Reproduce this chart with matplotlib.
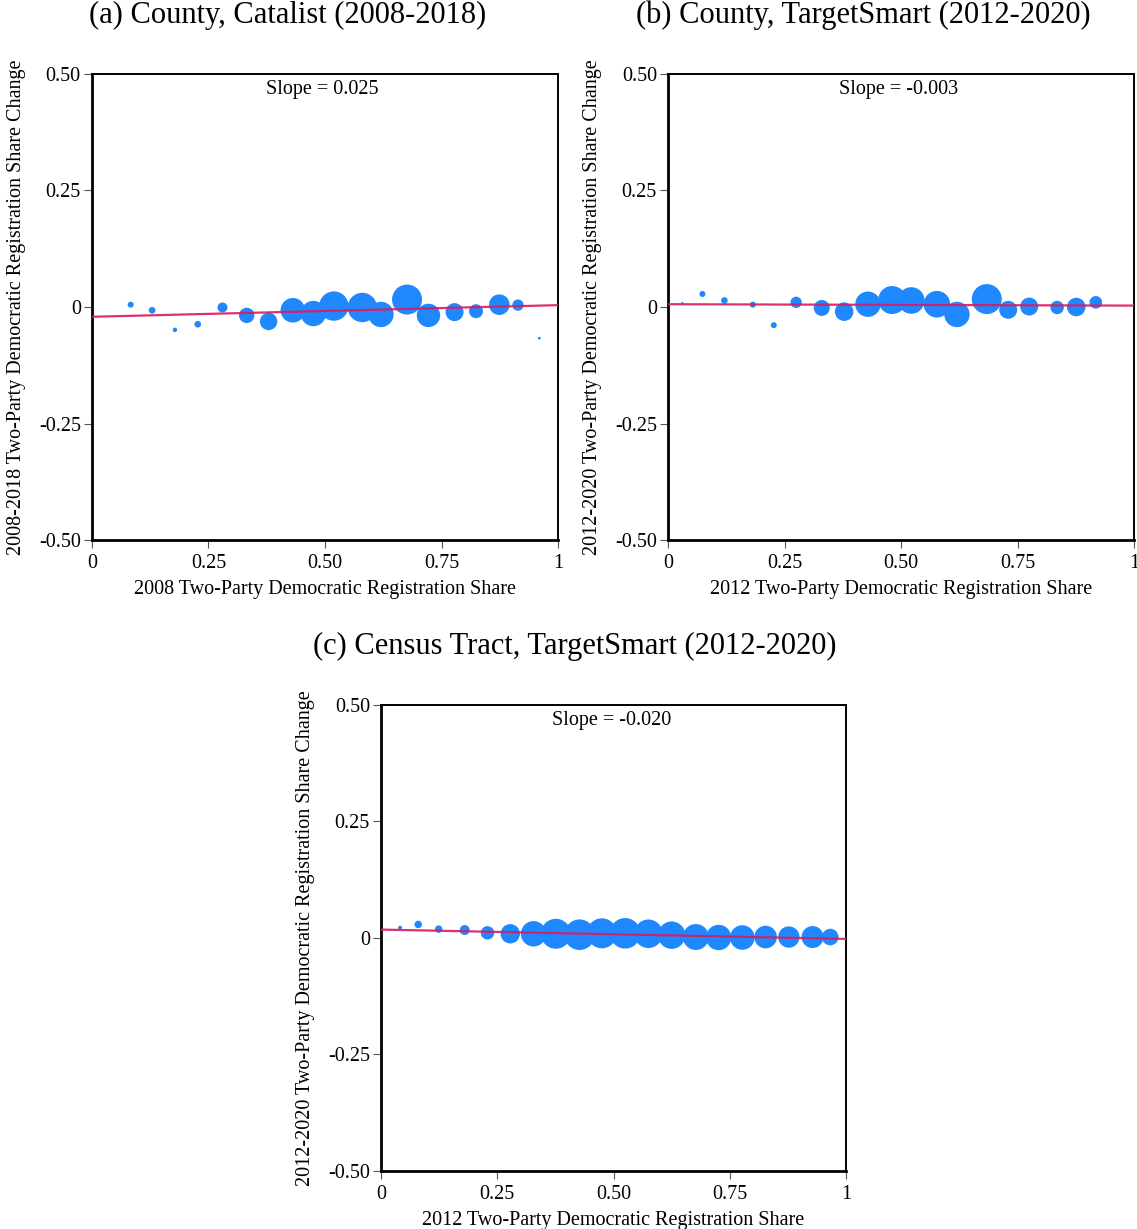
import numpy as np
from matplotlib import pyplot as plt

# panel (a) county, Catalist 2008-2018
a_share = [0.083, 0.129, 0.178, 0.227, 0.280, 0.332, 0.379, 0.431, 0.475, 0.519,
           0.580, 0.620, 0.676, 0.722, 0.778, 0.824, 0.874, 0.914, 0.960]
a_change = [0.005, -0.007, -0.049, -0.037, -0.001, -0.018, -0.031, -0.007, -0.014, 0.002,
            -0.001, -0.016, 0.016, -0.018, -0.011, -0.009, 0.005, 0.004, -0.067]
a_weight = [9, 11, 5, 11, 25, 59, 76, 151, 161, 216, 216, 161, 225, 137, 81, 49, 106, 32, 2]
a_fit = (-0.021, 0.025)

# panel (b) county, TargetSmart 2012-2020
b_share = [0.031, 0.074, 0.121, 0.182, 0.227, 0.275, 0.330, 0.378, 0.429, 0.481,
           0.522, 0.577, 0.620, 0.684, 0.730, 0.775, 0.835, 0.876, 0.918]
b_change = [0.009, 0.028, 0.014, 0.005, -0.039, 0.010, -0.002, -0.010, 0.006, 0.015,
            0.014, 0.006, -0.016, 0.017, -0.006, 0.001, -0.001, 0.000, 0.010]
b_weight = [1, 9, 11, 9, 9, 32, 64, 86, 161, 196, 177, 177, 161, 225, 81, 81, 45, 86, 40]
b_fit = (0.006, -0.003)

# panel (c) census tract, TargetSmart 2012-2020
c_share = [0.041, 0.080, 0.124, 0.180, 0.229, 0.278, 0.328, 0.376, 0.427, 0.475,
           0.525, 0.575, 0.625, 0.677, 0.726, 0.777, 0.827, 0.877, 0.928, 0.966]
c_change = [0.022, 0.029, 0.019, 0.017, 0.011, 0.009, 0.009, 0.009, 0.007, 0.010,
            0.010, 0.009, 0.006, 0.002, 0.001, 0.001, 0.002, 0.002, 0.002, 0.002]
c_weight = [4, 14, 14, 25, 45, 94, 161, 225, 234, 225, 234, 204, 188, 169, 161, 151,
            128, 114, 121, 69]
c_fit = (0.018, -0.020)

titles = ["(a) County, Catalist (2008-2018)",
          "(b) County, TargetSmart (2012-2020)",
          "(c) Census Tract, TargetSmart (2012-2020)"]
xlabels = ["2008 Two-Party Democratic Registration Share",
           "2012 Two-Party Democratic Registration Share",
           "2012 Two-Party Democratic Registration Share"]
ylabels = ["2008-2018 Two-Party Democratic Registration Share Change",
           "2012-2020 Two-Party Democratic Registration Share Change",
           "2012-2020 Two-Party Democratic Registration Share Change"]
xticks = [0, 0.25, 0.5, 0.75, 1]
xticklabels = ["0", "0.25", "0.50", "0.75", "1"]
yticks = [-0.5, -0.25, 0, 0.25, 0.5]
yticklabels = ["-0.50", "-0.25", "0", "0.25", "0.50"]

plt.rcParams['font.family'] = ['Liberation Serif', 'DejaVu Serif']

fig = plt.figure(figsize=(11.37, 12.29), dpi=100)
boxes = [[0.0809, 0.5606, 0.4099, 0.3792],
         [0.5875, 0.5606, 0.4099, 0.3792],
         [0.3351, 0.0472, 0.4090, 0.3792]]
# title centres in figure coordinates
title_pos = [(0.2533, 0.9878), (0.7590, 0.9878), (0.5057, 0.4744)]
panels = [(a_share, a_change, a_weight, a_fit),
          (b_share, b_change, b_weight, b_fit),
          (c_share, c_change, c_weight, c_fit)]

for i, (box, (xs, ys, w, fit)) in enumerate(zip(boxes, panels)):
    ax = fig.add_axes(box)
    ax.scatter(xs, ys, s=np.array(w) * 2.07, color='#1f88fe', linewidths=0, zorder=2)
    lx = np.array([0, 1])
    ax.plot(lx, fit[0] + fit[1] * lx, color='#d81b60', lw=1.6, alpha=0.9, zorder=3)
    ax.set_xlim(0, 1)
    ax.set_ylim(-0.5, 0.5)
    ax.set_xticks(xticks)
    ax.set_xticklabels(xticklabels)
    ax.set_yticks(yticks)
    ax.set_yticklabels(yticklabels)
    ax.tick_params(labelsize=14.5, length=6, width=0.8, color='#555555', pad=2)
    ax.tick_params(axis='x', pad=4)
    for side in ['left', 'bottom']:
        ax.spines[side].set_linewidth(2.0)
    for side in ['top', 'right']:
        ax.spines[side].set_linewidth(1.4)
    ax.set_xlabel(xlabels[i], fontsize=14.5, labelpad=5)
    ax.set_ylabel(ylabels[i], fontsize=14.5, labelpad=9)
    ax.text(0.495, 0.988, "Slope = {:.3f}".format(fit[1]), transform=ax.transAxes,
            ha='center', va='top', fontsize=14.5)
    fig.text(title_pos[i][0], title_pos[i][1], titles[i], fontsize=22,
             ha='center', va='center')

fig.savefig("out.png", dpi=100)
